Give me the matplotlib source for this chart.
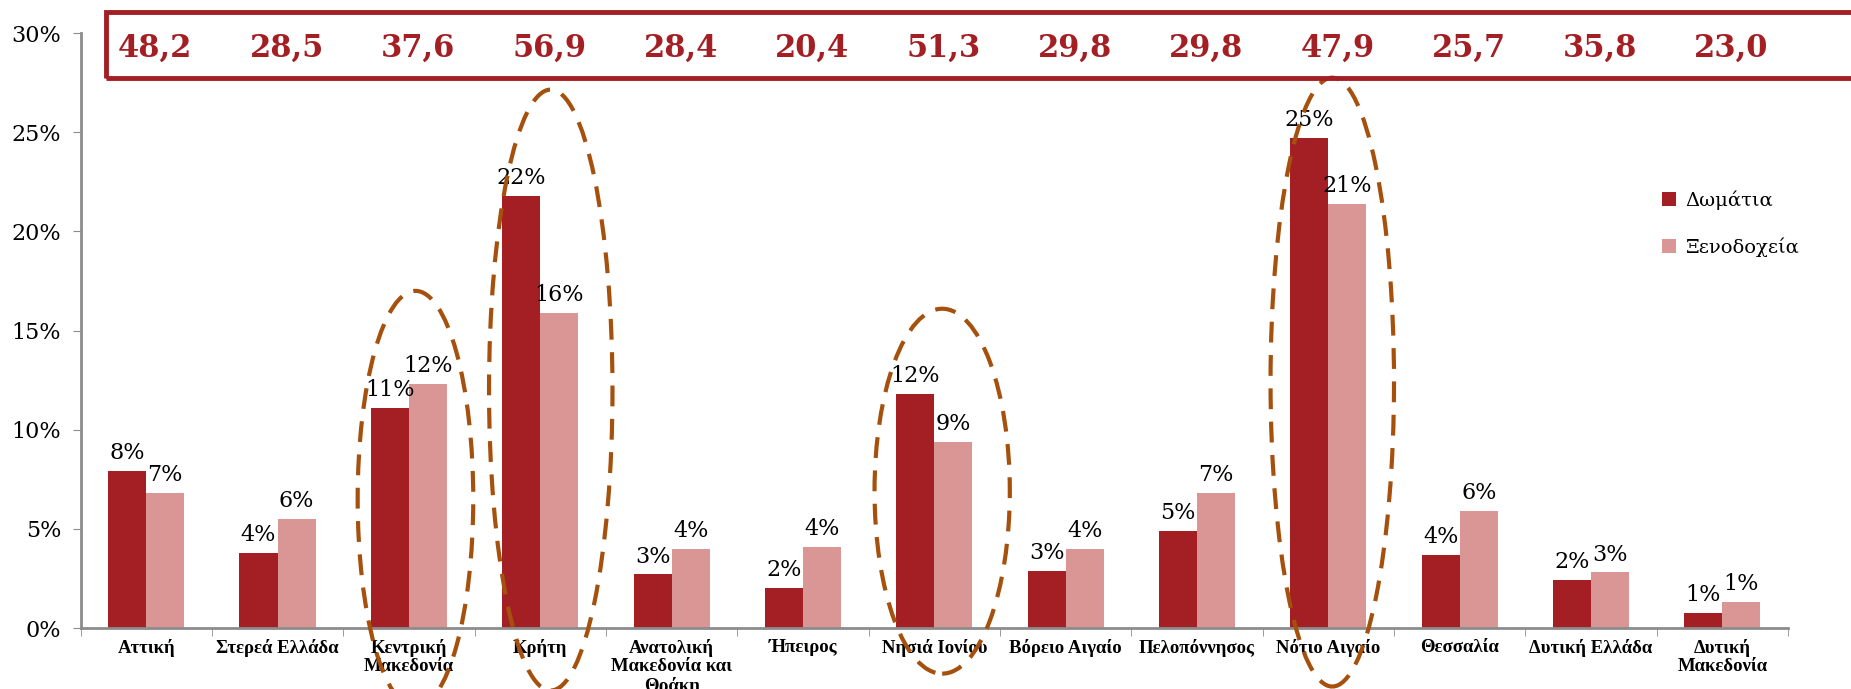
import matplotlib
matplotlib.use("Agg")
import matplotlib.pyplot as plt
from matplotlib.patches import Ellipse, Rectangle
import numpy as np

# Περιφέρειες και μερίδια (%) δωματίων / ξενοδοχείων
regions = ["Αττική", "Στερεά Ελλάδα", "Κεντρική\nΜακεδονία", "Κρήτη",
           "Ανατολική\nΜακεδονία και\nΘράκη", "Ήπειρος", "Νησιά Ιονίου",
           "Βόρειο Αιγαίο", "Πελοπόννησος", "Νότιο Αιγαίο", "Θεσσαλία",
           "Δυτική Ελλάδα", "Δυτική\nΜακεδονία"]
rooms = [7.9, 3.8, 11.1, 21.8, 2.7, 2.0, 11.8, 2.9, 4.9, 24.7, 3.7, 2.4, 0.75]
hotels = [6.8, 5.5, 12.3, 15.9, 4.0, 4.1, 9.4, 4.0, 6.8, 21.4, 5.9, 2.8, 1.3]
top_values = ["48,2", "28,5", "37,6", "56,9", "28,4", "20,4", "51,3",
              "29,8", "29,8", "47,9", "25,7", "35,8", "23,0"]
# περιφέρειες που τονίζονται με διακεκομμένη έλλειψη
highlight = [2, 3, 6, 9]

DARK = "#A31F24"
LIGHT = "#D99694"
BROWN = "#A5500C"
AXIS = "#8C8C8C"
SERIF = ["DejaVu Serif"]
TIMES = ["Liberation Serif"]

fig = plt.figure(figsize=(18.51, 6.89), dpi=100)
ax = fig.add_axes([0.0435, 0.0885, 0.9225, 0.8635])

x = np.arange(len(regions))
w = 0.29
b1 = ax.bar(x - w / 2, rooms, w, color=DARK, label="Δωμάτια", zorder=2)
b2 = ax.bar(x + w / 2, hotels, w, color=LIGHT, label="Ξενοδοχεία", zorder=2)

for bars, vals in ((b1, rooms), (b2, hotels)):
    for r, v in zip(bars, vals):
        ax.annotate(f"{v / 100:.0%}", (r.get_x() + r.get_width() / 2, v),
                    xytext=(0, 5), textcoords="offset points",
                    ha="center", va="bottom", fontsize=16, family=SERIF)

ax.set_xlim(-0.5, len(regions) - 0.5)
ax.set_ylim(0, 30)
ax.set_yticks(range(0, 31, 5))
ax.set_yticklabels([f"{t}%" for t in range(0, 31, 5)], fontsize=16, family=SERIF)
ax.set_xticks(x)
ax.set_xticklabels(regions, fontsize=13.5, family=TIMES, fontweight="bold",
                   linespacing=1.1)
ax.set_xticks(np.arange(-0.5, len(regions)), minor=True)
ax.tick_params(axis="x", which="major", length=0, pad=8)
ax.tick_params(axis="x", which="minor", length=6, color=AXIS, direction="out")
ax.tick_params(axis="y", length=6, color=AXIS, pad=8)
for s in ("top", "right"):
    ax.spines[s].set_visible(False)
for s in ("left", "bottom"):
    ax.spines[s].set_color(AXIS)
    ax.spines[s].set_linewidth(2)

# διακεκομμένες ελλείψεις γύρω από τις κύριες περιφέρειες
ell_shape = {2: (0.05, 6.5, 0.88, 21.0), 3: (0.08, 12.0, 0.94, 30.3),
             6: (0.06, 6.9, 1.03, 18.4), 9: (0.03, 12.4, 0.94, 30.7)}
for i in highlight:
    dx, cy, ew, eh = ell_shape[i]
    e = Ellipse((i + dx, cy), ew, eh, fill=False, edgecolor=BROWN, lw=3,
                ls=(0, (5, 3)), clip_on=False, zorder=3)
    ax.add_patch(e)

leg = ax.legend(loc="upper left", bbox_to_anchor=(0.916, 0.765), frameon=False,
                prop={"family": SERIF, "size": 14}, handlelength=0.7,
                handleheight=0.7, handletextpad=0.5, labelspacing=1.4)

# πλαίσιο με τις τιμές πάνω από το γράφημα
fig.patches.append(Rectangle((106 / 1851, 1 - 78 / 689), 1.0, 66 / 689,
                             transform=fig.transFigure, fill=False,
                             edgecolor=DARK, lw=3.5))
for i, t in enumerate(top_values):
    xf = fig.transFigure.inverted().transform(ax.transData.transform((i + 0.07, 0)))[0]
    fig.text(xf, 1 - 48 / 689, t, ha="center", va="center", color=DARK,
             fontsize=22, fontweight="bold", family=SERIF)

fig.savefig("out.png", dpi=100)
